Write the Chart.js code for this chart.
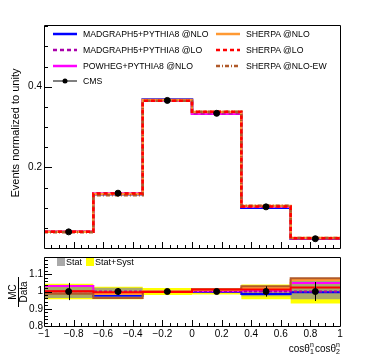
<!DOCTYPE html>
<html>
<head>
<meta charset="utf-8">
<script src="https://cdn.jsdelivr.net/npm/chart.js@4.4.0/dist/chart.umd.min.js"></script>
<style>
  body { margin: 0; background: #fff; }
  #wrap { position: relative; width: 370px; height: 360px; overflow: hidden;
          font-family: 'Liberation Sans', Arial, sans-serif; color: #000; }
  canvas { position: absolute; left: 0; }
  .leg { position: absolute; height: 12px; line-height: 12px; font-size: 8.7px; white-space: nowrap; }
  .leg svg { position: absolute; left: 0; top: 0; }
  .leg span { position: absolute; left: 30px; top: 0; }
  .box { position: absolute; width: 8px; height: 8px; }
  .small { position: absolute; font-size: 9px; line-height: 10px; white-space: nowrap; }
  #ytitle { position: absolute; width: 160px; height: 14px; line-height: 14px; font-size: 11px;
            text-align: center; left: -65px; top: 126px; transform: rotate(-90deg); white-space: nowrap; }
  #rtitle { position: absolute; width: 30px; height: 22px; left: 4px; top: 281px;
            transform: rotate(-90deg); font-size: 10px; text-align: center; }
  #rtitle div { height: 10px; line-height: 10px; }
  #rtitle .num { border-bottom: 1px solid #000; }
  #xtitle { position: absolute; right: 29px; top: 342px; font-size: 10px; line-height: 12px; white-space: nowrap; }
  .ss { display: inline-block; vertical-align: middle; position: relative; width: 5px; height: 14px; font-size: 7px; line-height: 7px; top: -1px; }
  .ss i { font-style: normal; position: absolute; left: 0; }
</style>
</head>
<body>
<div id="wrap">
  <canvas id="mainChart" width="370" height="256" style="top:0"></canvas>
  <canvas id="ratioChart" width="370" height="110" style="top:250px"></canvas>

  <div class="leg" style="left:53px;top:28px"><svg width="24" height="12"><line x1="0" y1="6" x2="24" y2="6" stroke="#0000ff" stroke-width="2.5"/></svg><span>MADGRAPH5+PYTHIA8 @NLO</span></div>
  <div class="leg" style="left:53px;top:44px"><svg width="24" height="12"><line x1="0" y1="6" x2="24" y2="6" stroke="#aa00aa" stroke-width="2.5" stroke-dasharray="4,3"/></svg><span>MADGRAPH5+PYTHIA8 @LO</span></div>
  <div class="leg" style="left:53px;top:60px"><svg width="24" height="12"><line x1="0" y1="6" x2="24" y2="6" stroke="#ff00ff" stroke-width="2.5"/></svg><span>POWHEG+PYTHIA8 @NLO</span></div>
  <div class="leg" style="left:53px;top:75px"><svg width="24" height="12"><line x1="0" y1="6" x2="24" y2="6" stroke="#000" stroke-width="1"/><circle cx="12" cy="6" r="2.5" fill="#000"/></svg><span>CMS</span></div>
  <div class="leg" style="left:216px;top:28px"><svg width="24" height="12"><line x1="0" y1="6" x2="24" y2="6" stroke="#ff9933" stroke-width="2.5"/></svg><span>SHERPA @NLO</span></div>
  <div class="leg" style="left:216px;top:44px"><svg width="24" height="12"><line x1="0" y1="6" x2="24" y2="6" stroke="#ff0000" stroke-width="2.5" stroke-dasharray="4,3"/></svg><span>SHERPA @LO</span></div>
  <div class="leg" style="left:216px;top:60px"><svg width="24" height="12"><line x1="0" y1="6" x2="24" y2="6" stroke="#b05a2a" stroke-width="2.5" stroke-dasharray="4,2,1,2"/></svg><span>SHERPA @NLO-EW</span></div>

  <div class="box" style="left:57px;top:258px;background:rgba(140,140,140,0.75)"></div>
  <div class="small" style="left:66px;top:257px">Stat</div>
  <div class="box" style="left:86px;top:258px;background:#ffff00"></div>
  <div class="small" style="left:95px;top:257px">Stat+Syst</div>

  <div id="ytitle">Events normalized to unity</div>
  <div id="rtitle"><div class="num">MC</div><div>Data</div></div>
  <div id="xtitle">cosθ<span class="ss"><i style="top:0">n</i><i style="top:7px">1</i></span>cosθ<span class="ss"><i style="top:0">n</i><i style="top:7px">2</i></span></div>
</div>

<script>
// bins in cos(theta1) cos(theta2)
const binEdges = [-1, -2 / 3, -1 / 3, 0, 1 / 3, 2 / 3, 1];
const binCenters = [-5 / 6, -1 / 2, -1 / 6, 1 / 6, 1 / 2, 5 / 6];

// normalized distributions (upper panel)
const cmsData    = [0.040, 0.136, 0.366, 0.334, 0.102, 0.023];
const mg5Nlo     = [0.040, 0.133, 0.368, 0.334, 0.100, 0.023];
const mg5Lo      = [0.040, 0.136, 0.366, 0.334, 0.102, 0.023];
const powhegNlo  = [0.041, 0.135, 0.366, 0.333, 0.102, 0.024];
const sherpaNlo  = [0.040, 0.134, 0.367, 0.337, 0.104, 0.025];
const sherpaLo   = [0.040, 0.135, 0.365, 0.338, 0.103, 0.024];
const sherpaNloEw = [0.039, 0.131, 0.365, 0.338, 0.105, 0.025];

// MC / Data (lower panel)
const mg5NloRatio     = [1.002, 0.975, 1.000, 0.999, 0.985, 0.995];
const mg5LoRatio      = [1.000, 1.000, 1.000, 1.000, 1.000, 1.000];
const powhegNloRatio  = [1.032, 0.990, 1.002, 1.003, 1.005, 1.050];
const sherpaNloRatio  = [1.000, 0.985, 1.003, 1.008, 1.020, 1.066];
const sherpaLoRatio   = [1.002, 0.995, 0.997, 1.011, 1.011, 1.023];
const sherpaNloEwRatio = [0.987, 0.962, 0.998, 1.013, 1.030, 1.077];
const cmsRatio    = [1, 1, 1, 1, 1, 1];
const cmsRatioErr = [0.050, 0.020, 0.005, 0.008, 0.030, 0.055];
const statHi = [1.037, 1.022, 1.006, 1.008, 1.028, 1.067];
const statLo = [0.963, 0.975, 0.994, 0.992, 0.972, 0.955];
const systHi = [1.045, 1.027, 1.020, 1.018, 1.040, 1.075];
const systLo = [0.955, 0.955, 0.980, 0.982, 0.955, 0.930];

// tick labels
const yTicksTop = [0.2, 0.4];
const yTicksRatio = [0.8, 0.9, 1, 1.1];
const xTicks = [-1, -0.8, -0.6, -0.4, -0.2, 0, 0.2, 0.4, 0.6, 0.8, 1];

Chart.defaults.font.family = "'Liberation Sans', Arial, sans-serif";
Chart.defaults.font.size = 10;
Chart.defaults.color = '#000';

function stepPoints(values) {
    return binEdges.map((x, i) => ({ x: x, y: values[Math.min(i, values.length - 1)] }));
}

function histLine(values, color, dash, width, order) {
    return {
        data: stepPoints(values),
        stepped: 'before',
        borderColor: color,
        borderDash: dash,
        borderWidth: width,
        pointRadius: 0,
        fill: false,
        order: order
    };
}

function band(values, color, fill, order) {
    return {
        data: stepPoints(values),
        stepped: 'before',
        borderWidth: 0,
        pointRadius: 0,
        backgroundColor: color,
        fill: fill,
        order: order
    };
}

function points(values) {
    return {
        data: binCenters.map((x, i) => ({ x: x, y: values[i] })),
        showLine: false,
        pointRadius: 3,
        pointBackgroundColor: '#000',
        pointBorderColor: '#000',
        order: 0
    };
}

// ROOT-like frame with ticks pointing into the pad
function tickRange(min, max, step) {
    const out = [];
    const n = Math.round((max - min) / step);
    for (let k = 0; k <= n; k++) out.push(min + k * step);
    return out;
}

const rootFrame = {
    id: 'rootFrame',
    afterDraw(chart, args, opts) {
        const { ctx, chartArea: a } = chart;
        const xs = chart.scales.x, ys = chart.scales.y;
        ctx.save();
        ctx.strokeStyle = '#000';
        ctx.lineWidth = 1;
        ctx.beginPath();
        ctx.rect(a.left + 0.5, a.top + 0.5, a.right - a.left, a.bottom - a.top);
        tickRange(opts.yFrom, opts.yTo, opts.yStep).forEach(v => {
            if (v <= ys.min || v >= ys.max) return;
            const major = Math.abs(v / opts.yMajor - Math.round(v / opts.yMajor)) < 1e-6;
            const y = Math.round(ys.getPixelForValue(v)) + 0.5;
            ctx.moveTo(a.left, y);
            ctx.lineTo(a.left + (major ? 8 : 4), y);
        });
        tickRange(-1, 1, 0.05).forEach(v => {
            const major = Math.abs(v / 0.2 - Math.round(v / 0.2)) < 1e-6;
            const x = Math.round(xs.getPixelForValue(v)) + 0.5;
            ctx.moveTo(x, a.bottom);
            ctx.lineTo(x, a.bottom - (major ? 6 : 3));
        });
        ctx.stroke();
        ctx.restore();
    }
};

const errorBars = {
    id: 'errorBars',
    afterDatasetsDraw(chart) {
        const { ctx } = chart;
        const xs = chart.scales.x, ys = chart.scales.y;
        ctx.save();
        ctx.strokeStyle = '#000';
        ctx.lineWidth = 1;
        ctx.beginPath();
        binCenters.forEach((c, i) => {
            const x = Math.round(xs.getPixelForValue(c)) + 0.5;
            ctx.moveTo(x, ys.getPixelForValue(cmsRatio[i] + cmsRatioErr[i]));
            ctx.lineTo(x, ys.getPixelForValue(cmsRatio[i] - cmsRatioErr[i]));
        });
        ctx.stroke();
        ctx.restore();
    }
};

const minus = v => String(v).replace('-', '\u2212');

new Chart(document.getElementById('mainChart'), {
    type: 'line',
    data: {
        datasets: [
            histLine(mg5Nlo, '#0000ff', [], 2.5, 6),
            histLine(powhegNlo, '#ff00ff', [], 2.5, 5),
            histLine(mg5Lo, '#aa00aa', [4, 3], 2.5, 4),
            histLine(sherpaNlo, '#ff9933', [], 2.5, 3),
            histLine(sherpaNloEw, '#b05a2a', [4, 2, 1, 2], 2.5, 2),
            histLine(sherpaLo, '#ff0000', [4, 3], 2.5, 1),
            points(cmsData)
        ]
    },
    options: {
        responsive: false,
        animation: false,
        layout: { padding: { top: 25, right: 30, bottom: 4, left: 0 } },
        plugins: {
            legend: { display: false },
            tooltip: { enabled: false },
            rootFrame: { yFrom: 0, yTo: 0.55, yStep: 0.05, yMajor: 0.2 }
        },
        scales: {
            x: { type: 'linear', min: -1, max: 1, display: false },
            y: {
                type: 'linear', min: 0, max: 0.553,
                afterBuildTicks: s => { s.ticks = yTicksTop.map(v => ({ value: v })); },
                afterFit: s => { s.width = 44; },
                grid: { display: false, drawTicks: false },
                border: { display: false },
                ticks: { padding: 2, callback: v => minus(v) }
            }
        }
    },
    plugins: [rootFrame]
});

new Chart(document.getElementById('ratioChart'), {
    type: 'line',
    data: {
        datasets: [
            band(systHi, '#ffff00', '+1', 20),
            band(systLo, 'rgba(0,0,0,0)', false, 19),
            band(statHi, 'rgba(140,140,140,0.75)', '+1', 18),
            band(statLo, 'rgba(0,0,0,0)', false, 17),
            histLine(mg5NloRatio, '#0000ff', [], 2, 6),
            histLine(powhegNloRatio, '#ff00ff', [], 2, 5),
            histLine(mg5LoRatio, '#aa00aa', [3, 2], 2, 4),
            histLine(sherpaNloRatio, '#ff9933', [], 2, 3),
            histLine(sherpaNloEwRatio, '#b05a2a', [], 2, 2),
            histLine(sherpaLoRatio, '#ff0000', [], 2, 1),
            points(cmsRatio)
        ]
    },
    options: {
        responsive: false,
        animation: false,
        layout: { padding: { top: 2, right: 30, bottom: 0, left: 0 } },
        plugins: {
            legend: { display: false },
            tooltip: { enabled: false },
            rootFrame: { yFrom: 0.8, yTo: 1.2, yStep: 0.02, yMajor: 0.1 }
        },
        scales: {
            x: {
                type: 'linear', min: -1, max: 1,
                afterBuildTicks: s => { s.ticks = xTicks.map(v => ({ value: v })); },
                afterFit: s => { s.height = 34; },
                grid: { display: false, drawTicks: false },
                border: { display: false },
                ticks: { padding: 2, autoSkip: false, maxRotation: 0, callback: v => minus(v) }
            },
            y: {
                type: 'linear', min: 0.8, max: 1.2,
                afterBuildTicks: s => { s.ticks = yTicksRatio.map(v => ({ value: v })); },
                afterFit: s => { s.width = 44; },
                grid: { display: false, drawTicks: false },
                border: { display: false },
                ticks: { padding: 1, callback: v => minus(v) }
            }
        }
    },
    plugins: [rootFrame, errorBars]
});
</script>
</body>
</html>
